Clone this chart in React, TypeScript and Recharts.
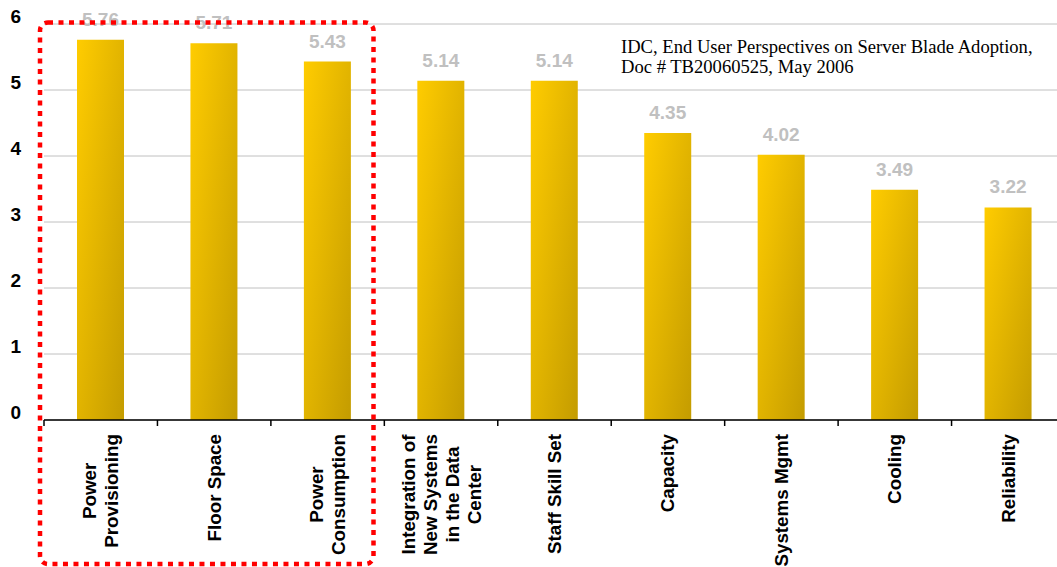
import { BarChart, Bar, XAxis, YAxis, CartesianGrid, LabelList } from 'recharts';

const categories = [
  'Power\nProvisioning',
  'Floor Space',
  'Power\nConsumption',
  'Integration of\nNew Systems\nin the Data\nCenter',
  'Staff Skill Set',
  'Capacity',
  'Systems Mgmt',
  'Cooling',
  'Reliability',
];
const scores = [5.76, 5.71, 5.43, 5.14, 5.14, 4.35, 4.02, 3.49, 3.22];
const yTicks = [0, 1, 2, 3, 4, 5, 6];
const sourceLines = [
  'IDC, End User Perspectives on Server Blade Adoption,',
  'Doc # TB20060525, May 2006',
];

const data = categories.map((name, i) => ({ name, score: scores[i] }));

const CHART_W = 1080;
const CHART_H = 567;
const PLOT_LEFT = 44;
const PLOT_RIGHT = 1065;
const BAND = (PLOT_RIGHT - PLOT_LEFT) / categories.length;
const FONT = '"Liberation Sans", Arial, sans-serif';
const LABEL_SIZE = 18.8;

let measureCtx: CanvasRenderingContext2D | null = null;
function textWidth(s: string) {
  if (!measureCtx) {
    measureCtx = document.createElement('canvas').getContext('2d');
  }
  if (!measureCtx) return s.length * 10;
  measureCtx.font = `bold ${LABEL_SIZE}px ${FONT}`;
  return measureCtx.measureText(s).width;
}

function CategoryTick(props: any) {
  const { x, y, payload } = props;
  const lines: string[] = String(payload.value).split('\n');
  const longest = Math.max(...lines.map(textWidth));
  const cy = y + 14 + longest / 2;
  return (
    <g>
      <line x1={x - BAND / 2} x2={x - BAND / 2} y1={y} y2={y + 6} stroke="#000" strokeWidth={1.5} />
      {lines.map((line, i) => {
        const lx = x + (i - (lines.length - 1) / 2) * 22;
        return (
          <text
            key={i}
            x={lx}
            y={cy}
            transform={`rotate(-90 ${lx} ${cy})`}
            textAnchor="middle"
            dominantBaseline="central"
            fontFamily={FONT}
            fontWeight="bold"
            fontSize={LABEL_SIZE}
            fill="#000"
          >
            {line}
          </text>
        );
      })}
    </g>
  );
}

function ValueTick(props: any) {
  const { y, payload } = props;
  return (
    <text x={21} y={y - 1} textAnchor="end" fontFamily={FONT} fontWeight="bold" fontSize={19} fill="#000">
      {payload.value}
    </text>
  );
}

export default function App() {
  return (
    <div style={{ position: 'absolute', left: 0, top: 0, width: 1057, height: 567, overflow: 'hidden', background: '#fff' }}>
      <BarChart
        width={CHART_W}
        height={CHART_H}
        data={data}
        margin={{ top: 24, right: CHART_W - PLOT_RIGHT, left: 0, bottom: 0 }}
      >
        <defs>
          <linearGradient id="barGold" x1="0" y1="0" x2="1" y2="1">
            <stop offset="0%" stopColor="#ffcc00" />
            <stop offset="100%" stopColor="#c49c00" />
          </linearGradient>
        </defs>
        <CartesianGrid vertical={false} stroke="#c0c0c0" strokeWidth={1} />
        <YAxis
          width={PLOT_LEFT}
          domain={[0, 6]}
          ticks={yTicks}
          axisLine={false}
          tickLine={false}
          tick={<ValueTick />}
        />
        <XAxis
          dataKey="name"
          interval={0}
          height={CHART_H - 420}
          tickSize={0}
          tickMargin={0}
          tickLine={false}
          axisLine={{ stroke: '#000', strokeWidth: 1.5 }}
          tick={<CategoryTick />}
        />
        <Bar dataKey="score" fill="url(#barGold)" barSize={47} isAnimationActive={false}>
          <LabelList
            dataKey="score"
            position="top"
            offset={14}
            fill="#c0c0c0"
            fontFamily={FONT}
            fontWeight="bold"
            fontSize={19}
          />
        </Bar>
      </BarChart>
      <svg width={1057} height={567} style={{ position: 'absolute', left: 0, top: 0, pointerEvents: 'none' }}>
        <rect
          x={40}
          y={22.5}
          width={333.5}
          height={541.5}
          rx={8}
          fill="none"
          stroke="#ff0000"
          strokeWidth={4.5}
          strokeDasharray="5 5.5"
        />
        {sourceLines.map((line, i) => (
          <text key={i} x={621} y={53 + i * 20} fontFamily='"Liberation Serif", "Times New Roman", serif' fontSize={18.6} fill="#000">
            {line}
          </text>
        ))}
      </svg>
    </div>
  );
}
